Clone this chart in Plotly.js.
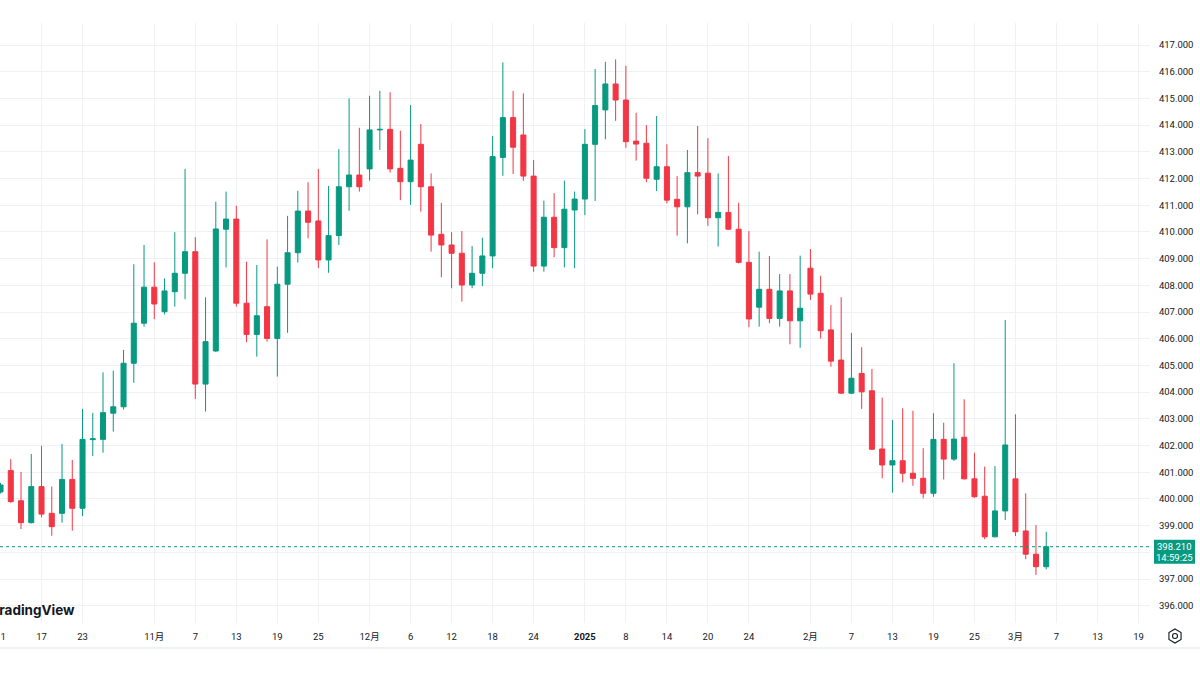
<!DOCTYPE html>
<html>
<head>
<meta charset="utf-8">
<script src="https://cdn.plot.ly/plotly-3.0.1.min.js"></script>
<style>
  html, body { margin: 0; padding: 0; background: #ffffff; }
  #chart { width: 1200px; height: 675px; }
</style>
</head>
<body>
<div id="chart"></div>
<script>
// daily candles, trading days only
var dates = [
  "2024-10-11","2024-10-14","2024-10-15","2024-10-16","2024-10-17","2024-10-18","2024-10-21","2024-10-22","2024-10-23","2024-10-24",
  "2024-10-25","2024-10-28","2024-10-29","2024-10-30","2024-10-31","2024-11-01","2024-11-04","2024-11-05","2024-11-06","2024-11-07",
  "2024-11-08","2024-11-11","2024-11-12","2024-11-13","2024-11-14","2024-11-15","2024-11-18","2024-11-19","2024-11-20","2024-11-21",
  "2024-11-22","2024-11-25","2024-11-26","2024-11-27","2024-11-28","2024-11-29","2024-12-02","2024-12-03","2024-12-04","2024-12-05",
  "2024-12-06","2024-12-09","2024-12-10","2024-12-11","2024-12-12","2024-12-13","2024-12-16","2024-12-17","2024-12-18","2024-12-19",
  "2024-12-20","2024-12-23","2024-12-24","2024-12-26","2024-12-27","2024-12-30","2024-12-31","2025-01-02","2025-01-03","2025-01-06",
  "2025-01-07","2025-01-08","2025-01-09","2025-01-10","2025-01-13","2025-01-14","2025-01-15","2025-01-16","2025-01-17","2025-01-20",
  "2025-01-21","2025-01-22","2025-01-23","2025-01-24","2025-01-27","2025-01-28","2025-01-29","2025-01-30","2025-01-31","2025-02-03",
  "2025-02-04","2025-02-05","2025-02-06","2025-02-07","2025-02-10","2025-02-11","2025-02-12","2025-02-13","2025-02-14","2025-02-17",
  "2025-02-18","2025-02-19","2025-02-20","2025-02-21","2025-02-24","2025-02-25","2025-02-26","2025-02-27","2025-02-28","2025-03-03",
  "2025-03-04","2025-03-05","2025-03-06"
];

var openVals = [
  400.26,401.06,399.93,399.11,400.46,399.46,399.46,400.73,399.65,402.22,
  402.23,403.21,403.45,405.08,406.58,407.93,407.01,407.76,408.45,409.26,
  404.30,405.54,410.10,410.48,407.33,406.16,407.20,406.01,408.04,409.22,
  410.78,410.41,408.95,409.86,411.69,412.13,412.36,413.82,413.84,412.38,
  411.88,413.28,411.69,409.91,409.51,409.20,408.01,408.45,409.10,412.79,
  414.28,413.63,412.09,408.72,410.55,409.41,410.82,411.23,413.28,414.57,
  415.54,414.94,413.40,413.32,411.97,412.44,411.22,410.94,412.22,412.20,
  410.53,410.73,410.10,408.86,407.18,407.85,406.76,407.79,406.67,408.64,
  407.70,406.33,405.20,403.96,404.70,404.05,401.87,401.27,401.43,400.96,
  400.77,400.21,402.23,401.49,402.31,400.75,400.10,398.58,399.55,400.75,
  398.80,397.93,397.46
];

var highVals = [
  400.60,401.49,401.01,401.68,401.99,400.46,402.06,401.46,403.37,403.22,
  404.74,404.80,405.58,408.79,409.51,408.86,408.26,409.99,412.36,409.80,
  407.55,411.13,411.51,410.98,408.88,408.76,409.72,408.70,410.60,411.54,
  411.86,412.36,411.72,413.10,415.00,413.90,415.10,415.28,415.23,413.79,
  414.75,414.04,412.19,411.09,409.99,410.03,409.47,409.78,413.59,416.35,
  415.28,415.19,412.69,411.17,411.45,411.92,411.51,413.85,416.10,416.37,
  416.46,416.22,414.46,414.00,414.34,413.28,412.09,413.07,413.97,413.51,
  412.19,412.84,411.09,410.03,409.26,409.10,408.42,408.42,409.11,409.36,
  408.36,407.26,407.55,406.22,405.68,404.87,403.79,402.96,403.39,403.30,
  401.90,403.21,402.85,405.08,403.73,401.73,401.21,401.23,406.70,403.17,
  400.21,399.02,398.77
];

var lowVals = [
  400.20,399.85,398.87,399.08,399.31,398.62,399.11,398.81,399.36,401.61,
  401.73,402.52,403.35,404.35,406.45,406.73,406.91,407.20,407.48,403.74,
  403.27,405.50,408.67,407.20,405.87,405.33,405.89,404.58,406.22,408.85,
  409.76,408.64,408.47,409.51,410.79,411.51,411.92,413.07,412.22,411.19,
  411.01,410.76,409.26,408.30,407.89,407.39,407.89,407.97,408.64,412.10,
  412.17,411.91,408.51,408.51,409.05,408.67,408.64,410.63,411.16,413.47,
  414.16,413.15,412.67,411.86,411.53,411.07,409.86,409.57,410.66,410.23,
  409.45,410.07,408.82,406.43,406.45,406.58,406.45,405.79,405.66,407.45,
  406.01,404.95,403.93,403.93,403.37,401.83,400.77,400.23,400.62,400.49,
  400.02,400.08,400.73,401.42,400.73,400.04,398.49,398.56,399.21,398.61,
  397.74,397.15,397.36
];

var closeVals = [
  400.52,399.90,399.11,400.46,399.43,398.96,400.73,399.65,402.23,402.25,
  403.23,403.45,405.08,406.58,407.93,407.30,407.79,408.45,409.26,404.30,
  405.89,410.11,410.48,407.33,406.16,406.86,406.01,408.04,409.22,410.78,
  410.36,408.95,409.86,411.69,412.13,411.69,413.82,413.84,412.36,411.88,
  412.69,411.69,409.88,409.51,409.20,408.01,408.45,409.10,412.82,414.28,
  413.17,412.09,408.72,410.55,409.41,410.85,411.23,413.28,414.73,415.54,
  414.94,413.38,413.29,412.01,412.44,411.19,410.94,412.22,412.09,410.53,
  410.73,410.10,408.86,406.74,407.85,406.76,407.79,406.67,407.14,407.67,
  406.30,405.16,403.96,404.52,404.01,401.86,401.27,401.43,400.96,400.77,
  400.21,402.23,401.49,402.24,400.75,400.08,398.58,399.55,402.02,398.77,
  397.93,397.46,398.21
];

// empty trading days to the right of the last candle
var futureDates = [
  "2025-03-07","2025-03-10","2025-03-11","2025-03-12","2025-03-13",
  "2025-03-14","2025-03-17","2025-03-18","2025-03-19"
];

var tickDays = [
  "2024-10-11","2024-10-17","2024-10-23","2024-11-01","2024-11-07","2024-11-13","2024-11-19","2024-11-25",
  "2024-12-02","2024-12-06","2024-12-12","2024-12-18","2024-12-24","2025-01-02","2025-01-08","2025-01-14",
  "2025-01-20","2025-01-24","2025-02-03","2025-02-07","2025-02-13","2025-02-19","2025-02-25","2025-03-03",
  "2025-03-07","2025-03-13","2025-03-19"
];
var tickText = [
  "11","17","23","11月","7","13","19","25",
  "12月","6","12","18","24","<b>2025</b>","8","14",
  "20","24","2月","7","13","19","25","3月",
  "7","13","19"
];

var priceTicks = [396,397,398,399,400,401,402,403,404,405,406,407,408,409,410,411,412,413,414,415,416,417];
var clockText = "14:59:25";

var upColor = "#089981";
var downColor = "#F23645";

var axisDays = dates.concat(futureDates);
var xIdx = dates.map(function (d) { return axisDays.indexOf(d); });
var tickIdx = tickDays.map(function (d) { return axisDays.indexOf(d); });
var lastClose = closeVals[closeVals.length - 1];
// the price tag covers the nearest scale label
var priceText = priceTicks.map(function (v) {
  return Math.abs(v - lastClose) < 0.5 ? "" : v.toFixed(3);
});

var candles = {
  type: "candlestick",
  x: xIdx,
  open: openVals,
  high: highVals,
  low: lowVals,
  close: closeVals,
  increasing: {line: {color: upColor, width: 1}, fillcolor: upColor},
  decreasing: {line: {color: downColor, width: 1}, fillcolor: downColor},
  whiskerwidth: 0,
  hoverinfo: "skip",
  showlegend: false
};

var plotW = 1150, plotH = 600;  // plot area in px
var gear = "M0,7 L6.06,3.5 L6.06,-3.5 L0,-7 L-6.06,-3.5 L-6.06,3.5 Z";

var layout = {
  width: 1200,
  height: 675,
  margin: {l: 0, r: 50, t: 23, b: 52},
  paper_bgcolor: "#ffffff",
  plot_bgcolor: "#ffffff",
  font: {family: "Roboto, 'Noto Sans CJK SC', sans-serif", size: 9.5, color: "#131722"},
  showlegend: false,
  xaxis: {
    type: "linear",
    range: [-0.05, -0.05 + plotW / 10.252],
    tickmode: "array",
    tickvals: tickIdx,
    ticktext: tickText,
    tickangle: 0,
    ticks: "outside",
    ticklen: 5,
    tickcolor: "rgba(0,0,0,0)",
    ticklabeloverflow: "allow",
    showgrid: true,
    gridcolor: "#f0f1f4",
    gridwidth: 1,
    zeroline: false,
    showline: false,
    rangeslider: {visible: false},
    fixedrange: true
  },
  yaxis: {
    side: "right",
    range: [395.352, 417.824],
    tickmode: "array",
    tickvals: priceTicks,
    ticktext: priceText,
    ticks: "outside",
    ticklen: 6,
    tickcolor: "rgba(0,0,0,0)",
    showgrid: true,
    gridcolor: "#f0f1f4",
    gridwidth: 1,
    zeroline: false,
    showline: false,
    fixedrange: true
  },
  shapes: [
    // last price line
    {type: "line", xref: "paper", yref: "y", x0: 0, x1: 1, y0: lastClose, y1: lastClose,
     line: {color: upColor, width: 1, dash: "dot"}},
    // last price tag
    {type: "rect", xref: "paper", yref: "y", ysizemode: "pixel", yanchor: lastClose,
     x0: 1154 / plotW, x1: 1195 / plotW, y0: -17, y1: 7,
     fillcolor: upColor, line: {width: 0}},
    // bottom border of the time scale
    {type: "line", xref: "paper", yref: "paper", x0: 0, x1: 1200 / plotW, y0: -25 / plotH, y1: -25 / plotH,
     line: {color: "#e0e3eb", width: 1}},
    // settings icon
    {type: "path", xref: "paper", yref: "paper", xsizemode: "pixel", ysizemode: "pixel",
     xanchor: 1175 / plotW, yanchor: -13 / plotH, path: gear,
     line: {color: "#131722", width: 1.1}},
    {type: "circle", xref: "paper", yref: "paper", xsizemode: "pixel", ysizemode: "pixel",
     xanchor: 1175 / plotW, yanchor: -13 / plotH, x0: -2.5, x1: 2.5, y0: -2.5, y1: 2.5,
     line: {color: "#131722", width: 1.1}}
  ],
  annotations: [
    {xref: "paper", yref: "y", x: 1174.5 / plotW, y: lastClose, xanchor: "center", yanchor: "middle",
     text: lastClose.toFixed(3), showarrow: false,
     font: {color: "#ffffff", size: 9.5}},
    {xref: "paper", yref: "y", x: 1174.5 / plotW, y: lastClose, xanchor: "center", yanchor: "middle",
     yshift: -10.5, text: clockText, showarrow: false,
     font: {color: "#ffffff", size: 9.5}},
    {xref: "paper", yref: "paper", x: 77 / plotW, y: 13 / plotH, xanchor: "right", yanchor: "middle",
     text: "<b>TradingView</b>", showarrow: false,
     font: {family: "Inter, 'Open Sans', sans-serif", size: 13.5, color: "#131722"}}
  ]
};

Plotly.newPlot("chart", [candles], layout, {displayModeBar: false, staticPlot: true});
</script>
</body>
</html>
